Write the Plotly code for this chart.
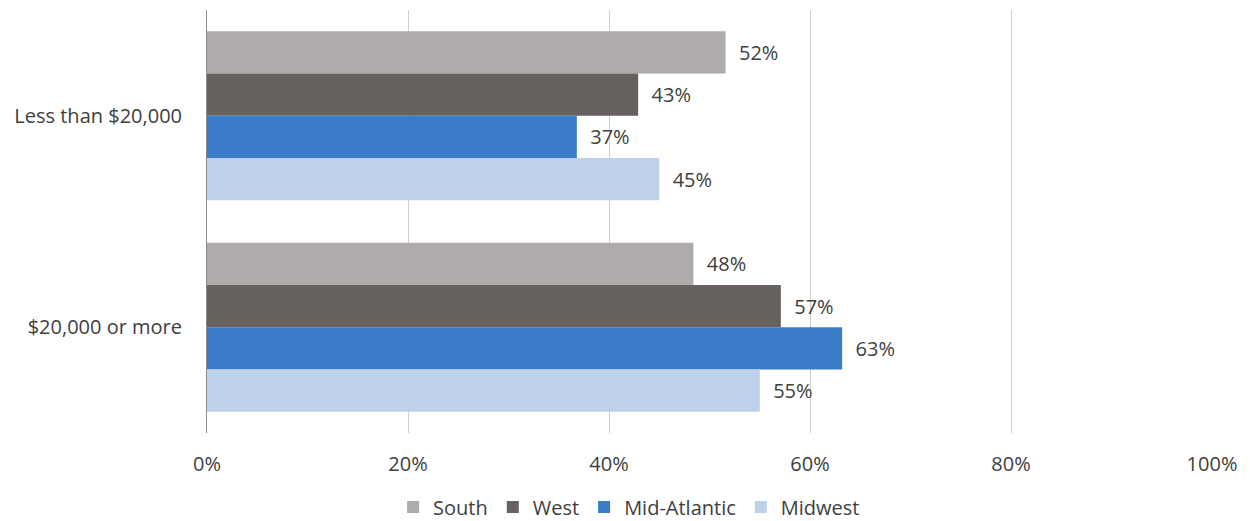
import plotly.graph_objects as go

categories = ["Less than $20,000", "$20,000 or more"]
regions = ["South", "West", "Mid-Atlantic", "Midwest"]
south = [0.516, 0.484]
west = [0.429, 0.571]
mid_atlantic = [0.368, 0.632]
midwest = [0.450, 0.550]
x_ticks = [0, 0.2, 0.4, 0.6, 0.8, 1.0]
x_ticklabels = ["0%", "20%", "40%", "60%", "80%", "100%"]

colors = ["#AFABAB", "#67625F", "#3A7CC8", "#BDD1EB"]
series = [south, west, mid_atlantic, midwest]

font = "Open Sans, Segoe UI, sans-serif"
text_color = "#404040"

fig = go.Figure()
for name, vals, col in zip(regions, series, colors):
    fig.add_trace(go.Bar(y=categories,
                         x=vals,
                         name=name,
                         orientation="h",
                         marker_color=col,
                         marker_line_width=0,
                         text=[f"  {v:.0%}" for v in vals],
                         textposition="outside",
                         textfont=dict(size=20, color=text_color),
                         cliponaxis=False))

# page body adds an 8px offset, margins compensate
fig.update_layout(width=1250,
                  height=521,
                  margin=dict(l=199, r=46, t=2, b=96),
                  barmode="group",
                  bargap=0.2,
                  bargroupgap=0,
                  plot_bgcolor="white",
                  paper_bgcolor="white",
                  font=dict(family=font, size=20, color=text_color),
                  legend=dict(orientation="h",
                              x=0.42, xanchor="center",
                              y=-0.175, yanchor="middle",
                              font=dict(size=20, color=text_color),
                              itemwidth=30,
                              tracegroupgap=0),
                  showlegend=True)

fig.update_xaxes(range=[0, 1.0],
                 tickvals=x_ticks,
                 ticktext=x_ticklabels,
                 showgrid=True,
                 gridcolor="#CFCFCF",
                 gridwidth=1,
                 zeroline=False,
                 showline=False,
                 ticklabelstandoff=17,
                 tickfont=dict(size=20, color=text_color))

fig.update_yaxes(autorange="reversed",
                 showline=True,
                 linecolor="#8C8C8C",
                 linewidth=1,
                 showgrid=False,
                 ticklabelstandoff=20,
                 tickfont=dict(size=20, color=text_color))

fig.write_html("out.html")
